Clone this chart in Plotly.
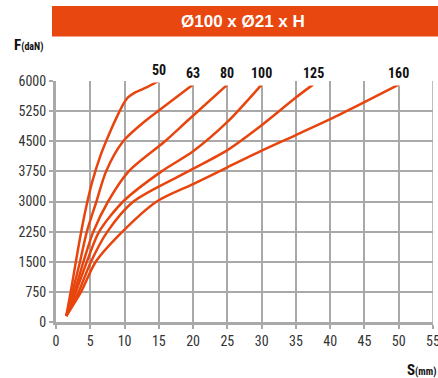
import plotly.graph_objects as go

# ---- data ----
s50 = [1.5, 2.3, 3.2, 4.2, 5.3, 6.5, 7.8, 9.0, 9.8, 10.5, 11.5, 13.2, 15.0]
f50 = [150, 900, 1800, 2700, 3500, 4150, 4700, 5150, 5420, 5590, 5710, 5840, 6000]

s63 = [1.5, 2.4, 3.5, 4.5, 5.9, 7.3, 9.8, 13.2, 15.1, 20.0]
f63 = [150, 750, 1500, 2250, 3000, 3750, 4500, 5030, 5280, 5910]

s80 = [1.5, 2.7, 4.0, 5.45, 7.6, 10.6, 15.9, 19.3, 25.0]
f80 = [150, 750, 1500, 2250, 3000, 3750, 4500, 5030, 5910]

s100 = [1.5, 2.9, 4.5, 6.3, 9.8, 15.4, 20.0, 25.0, 30.0]
f100 = [150, 750, 1500, 2250, 3000, 3750, 4250, 4980, 5910]

s125 = [1.5, 3.3, 5.1, 7.5, 11.3, 19.3, 25.0, 30.0, 35.0, 37.5]
f125 = [150, 750, 1500, 2250, 3000, 3750, 4280, 4900, 5590, 5910]

s160 = [1.5, 3.65, 5.8, 9.7, 14.7, 20.0, 25.0, 30.0, 35.0, 40.0, 45.0, 50.0]
f160 = [150, 750, 1500, 2250, 3000, 3435, 3850, 4265, 4655, 5050, 5475, 5910]

curve_names = ["50", "63", "80", "100", "125", "160"]
x_ticks = [0, 5, 10, 15, 20, 25, 30, 35, 40, 45, 50, 55]
y_ticks = [0, 750, 1500, 2250, 3000, 3750, 4500, 5250, 6000]
title_text = "Ø100 x Ø21 x H"

ORANGE = "#E8450E"
GRID = "#A9A9A9"
NARROW = "Liberation Sans Narrow, Arial Narrow, Roboto Condensed, sans-serif"

fig = go.Figure()
series = [(s50, f50), (s63, f63), (s80, f80), (s100, f100), (s125, f125), (s160, f160)]

# right-edge gridline at the last x tick (plotly omits gridlines on the plot edge)
fig.add_shape(type="line", xref="x", yref="y", x0=x_ticks[-1], x1=x_ticks[-1],
              y0=y_ticks[0], y1=y_ticks[-1], line=dict(color=GRID, width=1.5), layer="below")

for name, (xs, ys) in zip(curve_names, series):
    fig.add_trace(go.Scatter(x=xs, y=ys, mode="lines", name=name,
                             line=dict(color=ORANGE, width=2.5, shape="spline", smoothing=0.8),
                             showlegend=False, hoverinfo="skip"))

# curve labels at the end of each curve, on top of the 6000 gridline
for name, (xs, ys) in zip(curve_names, series):
    fig.add_annotation(x=xs[-1], y=6000, xref="x", yref="y", text="<b>%s</b>" % name,
                       showarrow=False, bgcolor="white", borderpad=4,
                       yanchor="middle", xanchor="center",
                       yshift=11 if name == "50" else 8,
                       font=dict(family=NARROW, size=14, color="#111"))

# title bar
fig.add_shape(type="rect", xref="paper", yref="paper",
              x0=(52 - 56) / 377, x1=(440 - 56) / 377,
              y0=(322 - 36.5) / 241, y1=(322 - 6) / 241,
              fillcolor="#E8470F", line=dict(width=0), layer="above")
fig.add_annotation(xref="paper", yref="paper", x=(243 - 56) / 377, y=(322 - 21) / 241,
                   xanchor="center", yanchor="middle",
                   text="<b>%s</b>" % title_text, showarrow=False,
                   font=dict(family="Liberation Sans, Arial, sans-serif", size=17, color="white"))

# axis titles
fig.add_annotation(xref="paper", yref="paper", x=(12 - 56) / 377, y=(322 - 45) / 241,
                   xanchor="left", yanchor="middle", showarrow=False,
                   text="<b>F</b><span style='font-size:10px'><b>(daN)</b></span>",
                   font=dict(family=NARROW, size=15, color="#111"))
fig.add_annotation(xref="paper", yref="paper", x=(405 - 56) / 377, y=(322 - 370) / 241,
                   xanchor="left", yanchor="middle", showarrow=False,
                   text="<b>S</b><span style='font-size:10px'><b>(mm)</b></span>",
                   font=dict(family=NARROW, size=15, color="#111"))

fig.update_xaxes(range=[0, 55], tickvals=x_ticks, ticktext=[str(v) for v in x_ticks],
                 showgrid=True, gridcolor=GRID, gridwidth=1.5,
                 showline=True, linecolor=GRID, linewidth=3,
                 ticks="outside", ticklen=4, tickcolor=GRID, tickwidth=1.5,
                 zeroline=False, fixedrange=True, ticklabeloverflow="allow",
                 automargin=False,
                 tickfont=dict(family=NARROW, size=14, color="#333"))
fig.update_yaxes(range=[0, 6000], tickvals=y_ticks, ticktext=[str(v) for v in y_ticks],
                 showgrid=True, gridcolor=GRID, gridwidth=1.5,
                 showline=True, linecolor=GRID, linewidth=3,
                 ticks="outside", ticklen=4, tickcolor=GRID, tickwidth=1.5,
                 zeroline=False, fixedrange=True, automargin=False,
                 tickfont=dict(family=NARROW, size=14, color="#333"))

fig.update_layout(width=438, height=378,
                  margin=dict(l=56, r=5, t=81, b=56),
                  paper_bgcolor="white", plot_bgcolor="white",
                  showlegend=False)

fig.write_html("out.html", config={"displayModeBar": False},
               post_script="document.body.style.margin='0';document.body.style.overflow='hidden';")
